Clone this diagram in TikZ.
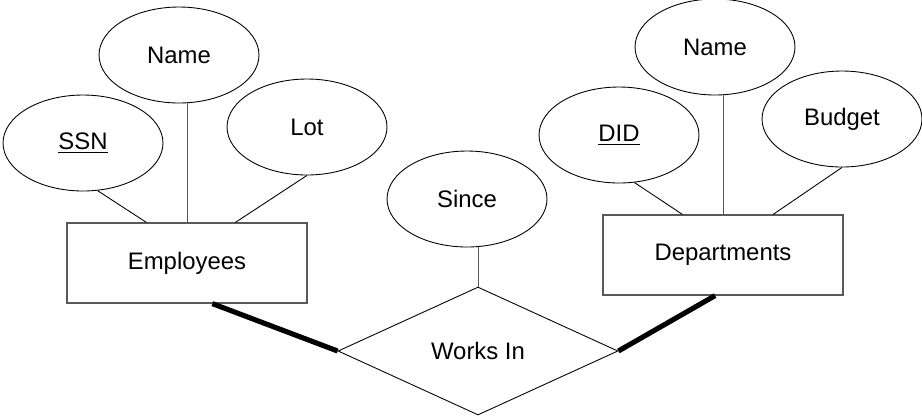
\documentclass[tikz,border=0pt]{standalone}
\usepackage{fontspec}
\setmainfont{Liberation Sans}
\usepackage{tikz}
\usetikzlibrary{shapes,positioning,calc}

\tikzset{
    attr/.style={ellipse, draw, line width=0.5pt, minimum width=3.2cm, minimum height=1.92cm, inner sep=0pt},
    entity/.style={rectangle, draw=black!65, line width=0.7pt, minimum width=4.8cm, minimum height=1.6cm},
    rel/.style={diamond, draw, line width=0.5pt, minimum width=5.6cm, minimum height=2.56cm, inner sep=0pt},
    link/.style={line width=0.5pt},
    total/.style={line width=2.9pt}
}

\begin{document}
\begin{tikzpicture}[x=0.02cm, y=-0.02cm, font=\fontsize{13.6}{16}\selectfont]
    \useasboundingbox (0,0) rectangle (922,417);

    % entities
    \node[entity] (emp) at (187,263) {Employees};
    \node[entity] (dept) at (723,255) {Departments};
    \node[rel] (works) at (478,351) {Works In};

    % attributes
    \node[attr] (ssn) at (83,143) {\underline{SSN}};
    \node[attr] (ename) at (179,55) {Name};
    \node[attr] (lot) at (307,127) {Lot};
    \node[attr] (since) at (467,199) {Since};
    \node[attr] (did) at (619,135) {\underline{DID}};
    \node[attr] (dname) at (715,47) {Name};
    \node[attr] (budget) at (842,119) {Budget};

    \draw[link] (ssn.-73) -- (emp.135);
    \draw[link, draw=black!65] (emp.north) -- (emp.north |- ename.south);
    \draw[link] (lot.south) -- (emp.40);
    \draw[link] (did.-72) -- (dept.135);
    \draw[link, draw=black!65] (dept.north) -- (dept.north |- dname.south);
    \draw[link] (budget.south) -- (dept.39);
    \draw[link, draw=black!65] (works.north) -- (works.north |- since.south);

    % total participation
    \draw[total] (emp.-58) -- (works.west);
    \draw[total] (dept.-101) -- (works.east);
\end{tikzpicture}
\end{document}
